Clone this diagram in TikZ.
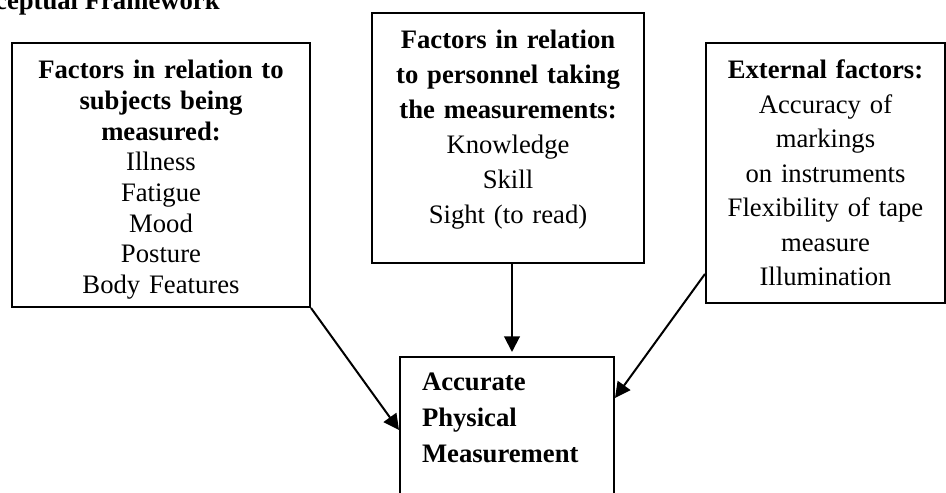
\documentclass[tikz,border=0pt]{standalone}
\usepackage{fontspec}
\setmainfont{Liberation Serif}
\usetikzlibrary{arrows.meta}

\newcommand{\lowerby}[1]{\rule[-#1]{0pt}{#1}}

\begin{document}
\begin{tikzpicture}[x=0.45pt,y=-0.45pt,->,>={Triangle[length=7pt,width=7pt]},line width=0.9pt,
  every node/.style={font=\fontsize{12pt}{13.8pt}\selectfont},
  factor box/.style={draw,align=center,inner xsep=0pt,inner ysep=0pt}]

  \useasboundingbox (0,0) rectangle (946,493);
  \clip (0,0) rectangle (946,493);

  \node[anchor=base east,font=\bfseries\fontsize{12pt}{13.8pt}\selectfont] (title) at (228,9) {Conceptual Framework};

  \node[factor box,text width=134.1pt,minimum height=118.8pt] (subj) at (161,175)
    {\rule{0pt}{12.5pt}\textbf{Factors in relation to}\\ \textbf{subjects being}\\ \textbf{measured:}\\ Illness\\ Fatigue\\ Mood\\ Posture\\ Body Features};
  \node[factor box,text width=122.4pt,minimum height=112.5pt,font=\fontsize{12pt}{15.75pt}\selectfont] (pers) at (508,138)
    {\textbf{Factors in relation}\\ \textbf{to personnel taking}\\ \textbf{the measurements:}\\ Knowledge\\ Skill\\ Sight (to read)\lowerby{10.4pt}};
  \node[factor box,text width=107.6pt,minimum height=117pt,font=\fontsize{12pt}{15.5pt}\selectfont] (ext) at (825.5,173)
    {\textbf{External factors:}\\ Accuracy of\\ markings\\ on instruments\\ Flexibility of tape\\ measure\\ Illumination};
  \node[draw,anchor=north,align=left,text width=76.5pt,inner xsep=9.9pt,inner ysep=7.2pt,font=\fontsize{12pt}{16.2pt}\selectfont] (acc) at (507,356)
    {\textbf{Accurate}\\ \textbf{Physical}\\ \textbf{Measurement}\lowerby{35pt}};

  \path (subj.south east) edge ([yshift=-33.3pt]acc.north west)
    ([xshift=1.8pt]pers.south) edge ([xshift=2.25pt,yshift=1.8pt]acc.north)
    ([yshift=13.5pt]ext.south west) edge ([yshift=-18.9pt]acc.north east);

\end{tikzpicture}
\end{document}
